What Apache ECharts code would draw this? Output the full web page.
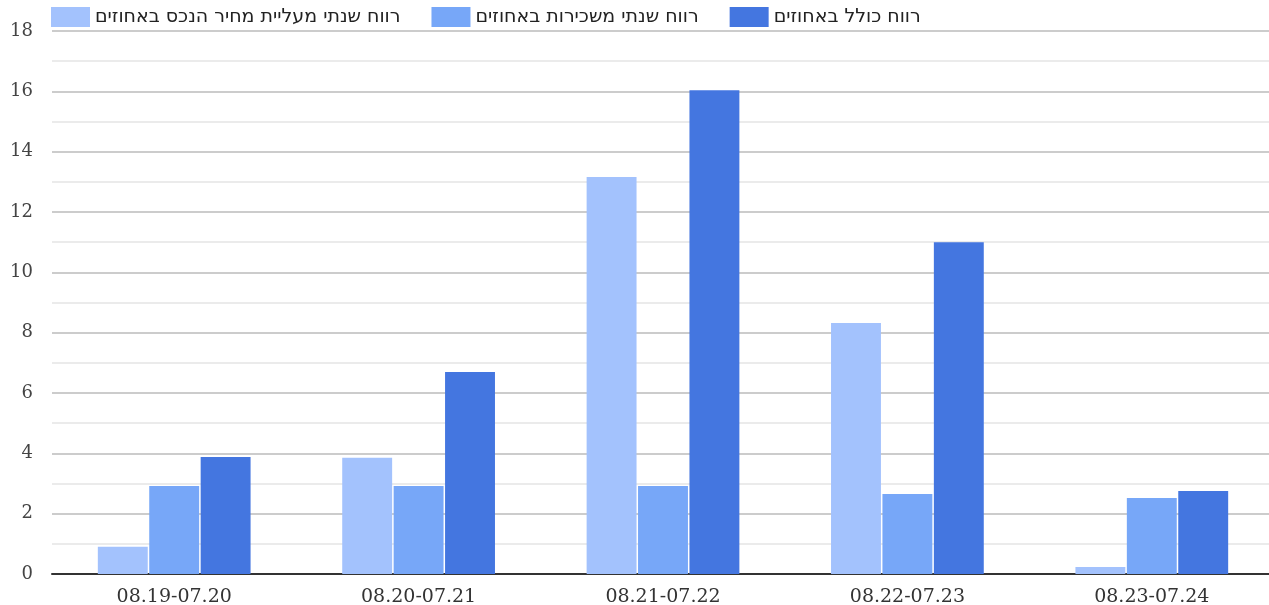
<!DOCTYPE html>
<html>
<head>
<meta charset="utf-8">
<script src="https://cdn.jsdelivr.net/npm/echarts@6/dist/echarts.min.js"></script>
<style>html,body{margin:0;padding:0;background:#fff}#c{width:1269px;height:605px}</style>
</head>
<body>
<div id="c"></div>
<script>
const categories = ['08.19-07.20', '08.20-07.21', '08.21-07.22', '08.22-07.23', '08.23-07.24'];
const seriesNames = ['רווח שנתי מעליית מחיר הנכס באחוזים', 'רווח שנתי משכירות באחוזים', 'רווח כולל באחוזים'];
const priceGain = [0.9, 3.85, 13.16, 8.32, 0.23];
const rentGain = [2.92, 2.92, 2.92, 2.65, 2.52];
const totalGain = [3.88, 6.7, 16.04, 11.0, 2.75];
const colors = ['#a3c2fd', '#77a7f8', '#4476e0'];

const chart = echarts.init(document.getElementById('c'));
const dataSets = [priceGain, rentGain, totalGain];
chart.setOption({
  animation: false,
  color: colors,
  legend: {
    left: 51, top: 7, padding: 0,
    itemWidth: 39, itemHeight: 20, itemGap: 31,
    icon: 'rect',
    textStyle: { fontFamily: 'DejaVu Sans', fontSize: 19, color: '#222' },
    data: seriesNames
  },
  grid: { left: 52, width: 1222, top: 31, bottom: 31, outerBoundsMode: 'none', containLabel: false },
  xAxis: {
    type: 'category',
    data: categories,
    axisLine: { lineStyle: { color: '#333', width: 2 } },
    axisTick: { show: false },
    axisLabel: { fontFamily: 'DejaVu Serif', fontSize: 19, color: '#333', margin: 14 }
  },
  yAxis: {
    type: 'value', min: 0, max: 18, interval: 2,
    axisLabel: { fontFamily: 'DejaVu Serif', fontSize: 18, color: '#444', margin: 19 },
    splitLine: { lineStyle: { color: '#cccccc', width: 2 } },
    minorTick: { show: false, splitNumber: 2 },
    minorSplitLine: { show: true, lineStyle: { color: '#ebebeb', width: 2 } }
  },
  series: seriesNames.map((n, i) => ({
    name: n, type: 'bar', data: dataSets[i],
    barGap: '3%', barCategoryGap: '37.5%'
  }))
});
</script>
</body>
</html>
